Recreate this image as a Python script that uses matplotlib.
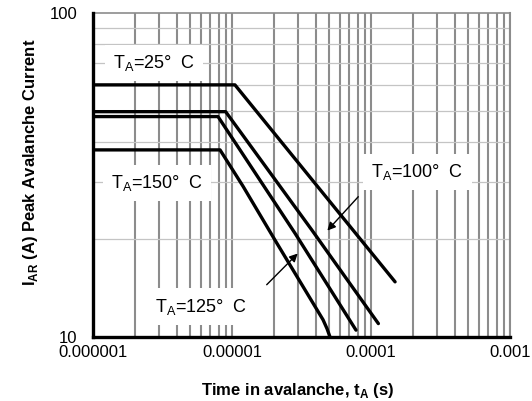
import numpy as np
import matplotlib.pyplot as plt
from matplotlib.ticker import FixedLocator, FixedFormatter, NullFormatter

plt.rcParams['font.family'] = ['Liberation Sans', 'DejaVu Sans']
plt.rcParams['mathtext.fontset'] = 'custom'
plt.rcParams['mathtext.rm'] = 'Liberation Sans'
plt.rcParams['mathtext.bf'] = 'Liberation Sans:bold'

# curves (time in s, current in A)
t_1 = [1e-6, 1.05e-5, 1.49e-4]
i_1 = [60, 60, 14.8]
t_2 = [1e-6, 9.0e-6, 3.75e-5, 1.13e-4]
i_2 = [49.6, 49.6, 21.4, 11.0]
t_3 = [1e-6, 7.93e-6, 2.84e-5, 7.8e-5]
i_3 = [47.9, 47.9, 20.9, 10.5]
t_4 = [1e-6, 8.2e-6, 1.2e-5, 2.04e-5, 4.52e-5, 4.83e-5, 5.07e-5]
i_4 = [37.8, 37.8, 29.2, 19.9, 11.3, 10.6, 10.0]

x_ticks = [1e-6, 1e-5, 1e-4, 1e-3]
x_labels = ['0.000001', '0.00001', '0.0001', '0.001']
y_ticks = [10, 100]
y_labels = ['10', '100']

# temperature labels: text, position
labels = [r'T$_\mathregular{A}$=25°  C', r'T$_\mathregular{A}$=150°  C',
          r'T$_\mathregular{A}$=125°  C', r'T$_\mathregular{A}$=100°  C']
label_x = [2.75e-6, 2.89e-6, 5.98e-6, 2.16e-4]
label_y = [70.1, 29.9, 12.4, 32.3]

# arrows: (from), (to)
arrows = [((8.1e-5, 27.1), (4.85e-5, 21.3)),
          ((1.777e-5, 14.5), (2.97e-5, 18.1))]

fig = plt.figure(figsize=(5.32, 4.01), dpi=100)
ax = fig.add_axes([93/532, 1-337/401, (510-93)/532, (337-13)/401])
ax.set_xscale('log')
ax.set_yscale('log')
ax.set_xlim(1e-6, 1e-3)
ax.set_ylim(10, 100)

# grid
minor_x = [m * 10.0**e for e in range(-6, -3) for m in range(2, 10)]
minor_y = [20, 30, 40, 50, 60, 70, 80, 90]
for v in minor_x + [1e-5, 1e-4, 1e-3]:
    ax.axvline(v, color='#8c8c8c', lw=1.5, zorder=1)
for v in minor_y:
    ax.axhline(v, color='#c4c4c4', lw=0.9, zorder=1)

for t, i in [(t_1, i_1), (t_2, i_2), (t_3, i_3), (t_4, i_4)]:
    ax.plot(t, i, color='black', lw=2.4, zorder=4, solid_capstyle='round')

for s, x, y in zip(labels, label_x, label_y):
    ax.text(x, y, s, fontsize=13, ha='center', va='center', zorder=3,
            bbox=dict(facecolor='white', edgecolor='none', pad=6))

for (x0, y0), (x1, y1) in arrows:
    ax.annotate('', xy=(x1, y1), xytext=(x0, y0), zorder=5,
                arrowprops=dict(arrowstyle='-|>', color='black', lw=1.0,
                                mutation_scale=12, shrinkA=0, shrinkB=0))

ax.xaxis.set_major_locator(FixedLocator(x_ticks))
ax.xaxis.set_major_formatter(FixedFormatter(x_labels))
ax.yaxis.set_major_locator(FixedLocator(y_ticks))
ax.yaxis.set_major_formatter(FixedFormatter(y_labels))
ax.xaxis.set_minor_formatter(NullFormatter())
ax.yaxis.set_minor_formatter(NullFormatter())
ax.tick_params(which='both', length=0, labelsize=12)
ax.tick_params(axis='y', pad=11)
ax.tick_params(axis='x', pad=6)

for s in ['left', 'bottom']:
    ax.spines[s].set_linewidth(2.4)
    ax.spines[s].set_zorder(6)
ax.spines['top'].set_color('#8c8c8c')
ax.spines['top'].set_linewidth(1.2)
ax.spines['right'].set_color('#8c8c8c')
ax.spines['right'].set_linewidth(1.5)

ax.set_xlabel(r'Time in avalanche, t$_\mathbf{A}$ (s)', fontsize=12, fontweight='bold')
ax.set_ylabel(r'I$_\mathbf{AR}$ (A) Peak Avalanche Current', fontsize=12, fontweight='bold')
ax.xaxis.set_label_coords(0.49, -0.135)
ax.yaxis.set_label_coords(-0.127, 0.54)

fig.savefig('out.png', dpi=100)
